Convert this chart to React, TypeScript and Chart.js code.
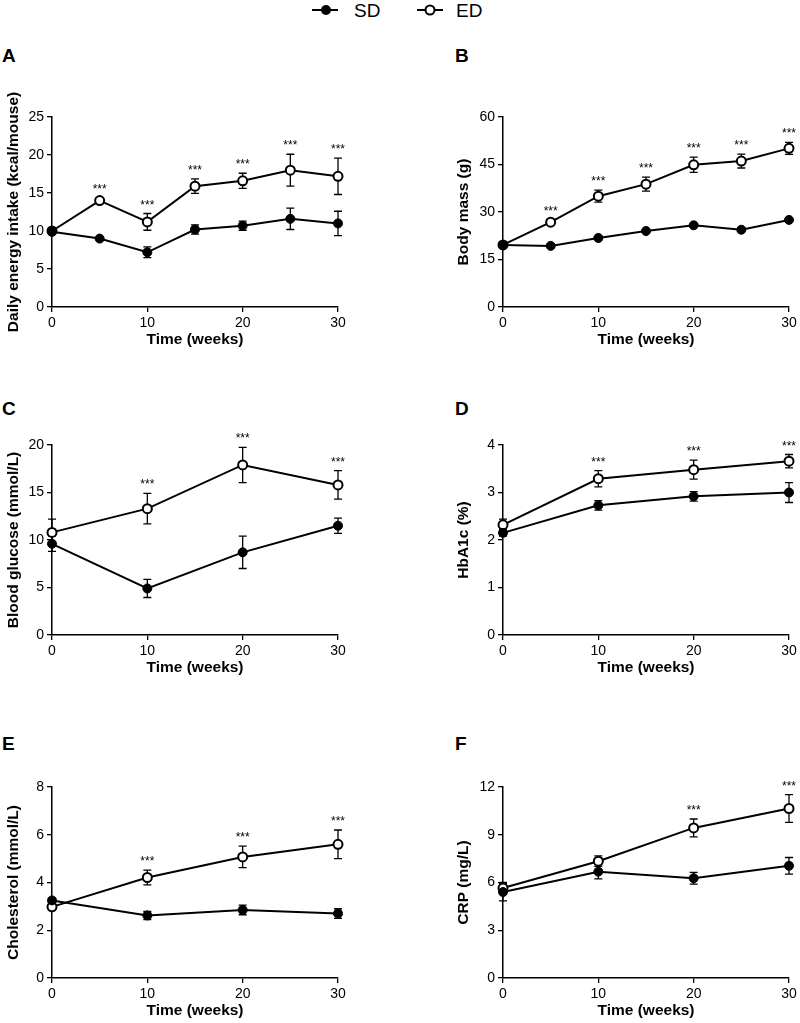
import React, { useEffect, useRef } from 'react';
import { Chart, registerables } from 'chart.js';

Chart.register(...registerables);

const FONT = '"Liberation Sans", Arial, Helvetica, sans-serif';
Chart.defaults.font.family = FONT;
Chart.defaults.color = '#000';

// ---------- data ----------
const weeksFine = [0, 5, 10, 15, 20, 25, 30];
const weeksCoarse = [0, 10, 20, 30];
const xTicks = [0, 10, 20, 30];

// A: Daily energy intake
const yTicksA = [0, 5, 10, 15, 20, 25];
const sdA = [9.9, 9.0, 7.2, 10.2, 10.7, 11.6, 11.0];
const sdErrA = [0.3, 0.2, 0.7, 0.6, 0.6, 1.4, 1.6];
const edA = [10.0, 14.0, 11.2, 15.9, 16.6, 18.0, 17.2];
const edErrA = [0.4, 0.3, 1.1, 0.95, 1.0, 2.1, 2.4];
const sigA = [false, true, true, true, true, true, true];

// B: Body mass
const yTicksB = [0, 15, 30, 45, 60];
const sdB = [19.6, 19.3, 21.8, 24.0, 25.8, 24.4, 27.5];
const sdErrB = [0.5, 0.4, 0.5, 0.5, 0.5, 0.5, 0.5];
const edB = [19.6, 26.8, 35.0, 38.8, 44.9, 46.1, 50.1];
const edErrB = [0.6, 0.8, 1.9, 2.2, 2.4, 2.2, 1.9];
const sigB = [false, true, true, true, true, true, true];

// C: Blood glucose
const yTicksC = [0, 5, 10, 15, 20];
const sdC = [9.6, 4.9, 8.7, 11.5];
const sdErrC = [0.8, 0.95, 1.7, 0.8];
const edC = [10.8, 13.3, 17.9, 15.8];
const edErrC = [1.4, 1.6, 1.85, 1.5];
const sigC = [false, true, true, true];

// D: HbA1c
const yTicksD = [0, 1, 2, 3, 4];
const sdD = [2.15, 2.73, 2.92, 3.0];
const sdErrD = [0.07, 0.1, 0.1, 0.21];
const edD = [2.32, 3.29, 3.48, 3.66];
const edErrD = [0.12, 0.17, 0.2, 0.14];
const sigD = [false, true, true, true];

// E: Cholesterol
const yTicksE = [0, 2, 4, 6, 8];
const sdE = [3.25, 2.62, 2.85, 2.7];
const sdErrE = [0.1, 0.17, 0.2, 0.2];
const edE = [2.98, 4.21, 5.07, 5.6];
const edErrE = [0.1, 0.31, 0.45, 0.6];
const sigE = [false, true, true, true];

// F: CRP
const yTicksF = [0, 3, 6, 9, 12];
const sdF = [5.4, 6.68, 6.27, 7.05];
const sdErrF = [0.55, 0.45, 0.37, 0.52];
const edF = [5.65, 7.34, 9.43, 10.65];
const edErrF = [0.35, 0.33, 0.56, 0.87];
const sigF = [false, false, true, true];

const panels = [
  { letter: 'A', title: 'Daily energy intake (kcal/mouse)', times: weeksFine, yTicks: yTicksA, sd: sdA, sdErr: sdErrA, ed: edA, edErr: edErrA, sig: sigA, col: 0, row: 0 },
  { letter: 'B', title: 'Body mass (g)', times: weeksFine, yTicks: yTicksB, sd: sdB, sdErr: sdErrB, ed: edB, edErr: edErrB, sig: sigB, col: 1, row: 0 },
  { letter: 'C', title: 'Blood glucose (mmol/L)', times: weeksCoarse, yTicks: yTicksC, sd: sdC, sdErr: sdErrC, ed: edC, edErr: edErrC, sig: sigC, col: 0, row: 1 },
  { letter: 'D', title: 'HbA1c (%)', times: weeksCoarse, yTicks: yTicksD, sd: sdD, sdErr: sdErrD, ed: edD, edErr: edErrD, sig: sigD, col: 1, row: 1 },
  { letter: 'E', title: 'Cholesterol (mmol/L)', times: weeksCoarse, yTicks: yTicksE, sd: sdE, sdErr: sdErrE, ed: edE, edErr: edErrE, sig: sigE, col: 0, row: 2 },
  { letter: 'F', title: 'CRP (mg/L)', times: weeksCoarse, yTicks: yTicksF, sd: sdF, sdErr: sdErrF, ed: edF, edErr: edErrF, sig: sigF, col: 1, row: 2 },
];

// ---------- layout ----------
const COLS = [
  { left: 0, padL: 0, padR: 62, titlePad: 4 },
  { left: 400, padL: 51, padR: 11, titlePad: 3 },
];
const ROWS = [
  { top: 90, padT: 27, height: 259, letterTop: 46 },
  { top: 420, padT: 25, height: 257, letterTop: 399 },
  { top: 760, padT: 27, height: 260, letterTop: 734 },
];
const Y_AXIS_W = 52;
const X_AXIS_H = 42;

// ---------- plugins ----------
const errorBarPlugin = {
  id: 'errorBars',
  beforeDatasetsDraw(chart: any) {
    const { ctx } = chart;
    const ys = chart.scales.y;
    ctx.save();
    ctx.strokeStyle = '#000';
    ctx.lineWidth = 1.3;
    chart.data.datasets.forEach((ds: any, di: number) => {
      const meta = chart.getDatasetMeta(di);
      meta.data.forEach((pt: any, i: number) => {
        const v = ds.data[i].y;
        const e = ds.errors[i];
        const x = pt.x;
        const y1 = ys.getPixelForValue(v + e);
        const y2 = ys.getPixelForValue(v - e);
        ctx.beginPath();
        ctx.moveTo(x, y1);
        ctx.lineTo(x, y2);
        ctx.moveTo(x - 4, y1);
        ctx.lineTo(x + 4, y1);
        ctx.moveTo(x - 4, y2);
        ctx.lineTo(x + 4, y2);
        ctx.stroke();
      });
    });
    ctx.restore();
  },
};

const starPlugin = {
  id: 'stars',
  afterDatasetsDraw(chart: any, _args: any, opts: any) {
    const sig: boolean[] = opts.sig || [];
    const { ctx } = chart;
    const ys = chart.scales.y;
    const ds: any = chart.data.datasets[1];
    const meta = chart.getDatasetMeta(1);
    ctx.save();
    ctx.fillStyle = '#000';
    ctx.font = `12px ${FONT}`;
    ctx.textAlign = 'center';
    ctx.textBaseline = 'alphabetic';
    meta.data.forEach((pt: any, i: number) => {
      if (!sig[i]) return;
      const top = ys.getPixelForValue(ds.data[i].y + ds.errors[i]);
      ctx.fillText('***', pt.x, top - 5);
    });
    ctx.restore();
  },
};

function Panel({ p }: { p: any }) {
  const ref = useRef<HTMLCanvasElement>(null);
  const col = COLS[p.col];
  const row = ROWS[p.row];
  useEffect(() => {
    const canvas = ref.current!;
    const yMax = p.yTicks[p.yTicks.length - 1];
    const yStep = p.yTicks[1] - p.yTicks[0];
    const chart = new Chart(canvas, {
      type: 'line',
      data: {
        datasets: [
          {
            label: 'SD',
            data: p.times.map((t: number, i: number) => ({ x: t, y: p.sd[i] })),
            errors: p.sdErr,
            borderColor: '#000',
            backgroundColor: '#000',
            pointBackgroundColor: '#000',
            pointBorderColor: '#000',
            pointRadius: 4.5,
            pointBorderWidth: 1,
            borderWidth: 2,
            tension: 0,
            clip: false,
          } as any,
          {
            label: 'ED',
            data: p.times.map((t: number, i: number) => ({ x: t, y: p.ed[i] })),
            errors: p.edErr,
            borderColor: '#000',
            backgroundColor: '#fff',
            pointBackgroundColor: '#fff',
            pointBorderColor: '#000',
            pointRadius: 4.5,
            pointBorderWidth: 2,
            borderWidth: 2,
            tension: 0,
            clip: false,
          } as any,
        ],
      },
      options: {
        animation: false,
        responsive: false,
        events: [],
        layout: { padding: { left: col.padL, right: col.padR, top: row.padT, bottom: 0 } },
        plugins: {
          legend: { display: false },
          tooltip: { enabled: false },
          stars: { sig: p.sig },
        } as any,
        scales: {
          x: {
            type: 'linear',
            min: xTicks[0],
            max: xTicks[xTicks.length - 1],
            afterBuildTicks: (s: any) => {
              s.ticks = xTicks.map((v) => ({ value: v }));
            },
            ticks: { font: { size: 14 }, color: '#000', padding: 3, maxRotation: 0, autoSkip: false },
            grid: { drawOnChartArea: false, drawTicks: true, tickLength: 5, color: '#000', lineWidth: 1.3 },
            border: { display: true, color: '#000', width: 1.5 },
            title: {
              display: true,
              text: 'Time (weeks)',
              font: { size: 15.5, weight: 'bold' },
              color: '#000',
              padding: { top: 0, bottom: 0 },
            },
            afterFit: (s: any) => {
              s.height = X_AXIS_H;
            },
          },
          y: {
            type: 'linear',
            min: p.yTicks[0],
            max: yMax,
            afterBuildTicks: (s: any) => {
              s.ticks = p.yTicks.map((v: number) => ({ value: v }));
            },
            ticks: { stepSize: yStep, font: { size: 14 }, color: '#000', padding: 3 },
            grid: { drawOnChartArea: false, drawTicks: true, tickLength: 5, color: '#000', lineWidth: 1.3 },
            border: { display: true, color: '#000', width: 1.5 },
            title: {
              display: true,
              text: p.title,
              font: { size: 15.5, weight: 'bold' },
              color: '#000',
              padding: { top: col.titlePad, bottom: 0 },
            },
            afterFit: (s: any) => {
              s.width = Y_AXIS_W;
            },
          },
        },
      } as any,
      plugins: [errorBarPlugin, starPlugin],
    });
    return () => chart.destroy();
  }, []);
  return (
    <>
      <canvas
        ref={ref}
        width={400}
        height={row.height}
        style={{ position: 'absolute', left: col.left, top: row.top, width: 400, height: row.height }}
      />
      <div
        style={{
          position: 'absolute',
          left: col.left === 0 ? 2 : 455,
          top: row.letterTop,
          font: `bold 19px ${FONT}`,
          lineHeight: '19px',
          color: '#000',
        }}
      >
        {p.letter}
      </div>
    </>
  );
}

function Legend() {
  return (
    <svg width={800} height={30} style={{ position: 'absolute', left: 0, top: 0 }}>
      <line x1={312} y1={10} x2={338} y2={10} stroke="#000" strokeWidth={2} />
      <circle cx={326} cy={10} r={5} fill="#000" />
      <text x={354} y={16.5} fontFamily={FONT} fontSize={19} fill="#000">SD</text>
      <line x1={417} y1={10} x2={443} y2={10} stroke="#000" strokeWidth={2} />
      <circle cx={430} cy={10} r={4.5} fill="#fff" stroke="#000" strokeWidth={2} />
      <text x={456} y={16.5} fontFamily={FONT} fontSize={19} fill="#000">ED</text>
    </svg>
  );
}

export default function App() {
  return (
    <div
      style={{
        position: 'absolute',
        left: 0,
        top: 0,
        width: 800,
        height: 1023,
        overflow: 'hidden',
        background: '#fff',
      }}
    >
      <Legend />
      {panels.map((p) => (
        <Panel key={p.letter} p={p} />
      ))}
    </div>
  );
}
